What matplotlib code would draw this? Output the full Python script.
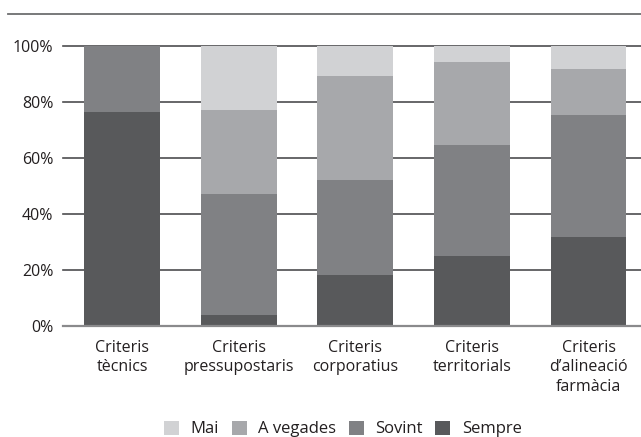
import numpy as np
import matplotlib.pyplot as plt
from matplotlib.lines import Line2D

categories = ['Criteris\ntècnics', 'Criteris\npressupostaris', 'Criteris\ncorporatius',
              'Criteris\nterritorials', 'Criteris\nd\u2019alineació\nfarmàcia']
sempre = [76.4, 3.8, 18.1, 24.9, 31.7]
sovint = [23.6, 43.2, 33.9, 39.6, 43.5]
a_vegades = [0.0, 30.0, 37.3, 29.7, 16.5]
mai = [0.0, 23.0, 10.7, 5.8, 8.3]

series = ['Mai', 'A vegades', 'Sovint', 'Sempre']
colors = {'Mai': '#d1d2d4', 'A vegades': '#a7a8ab', 'Sovint': '#808184', 'Sempre': '#58595b'}

plt.rcParams['font.family'] = ['Open Sans', 'DejaVu Sans']

fig = plt.figure(figsize=(6.41, 4.37), dpi=100)
ax = fig.add_axes([63 / 641, 1 - 325.7 / 437, 1 - 63 / 641, 280 / 437])

x = np.arange(len(categories))
w = 0.65
b1 = np.array(sempre)
b2 = b1 + np.array(sovint)
b3 = b2 + np.array(a_vegades)
ax.bar(x, sempre, w, color=colors['Sempre'], label='Sempre', zorder=3)
ax.bar(x, sovint, w, bottom=b1, color=colors['Sovint'], label='Sovint', zorder=3)
ax.bar(x, a_vegades, w, bottom=b2, color=colors['A vegades'], label='A vegades', zorder=3)
ax.bar(x, mai, w, bottom=b3, color=colors['Mai'], label='Mai', zorder=3)

ax.set_xlim(-0.506, 4.45)
ax.set_ylim(0, 100)
ax.set_yticks([0, 20, 40, 60, 80, 100])
ax.set_yticklabels(['0%', '20%', '40%', '60%', '80%', '100%'], fontsize=11.5, color='#231f20')
ax.set_xticks(x)
ax.set_xticklabels(categories, fontsize=11.5, color='#231f20', linespacing=1.32)
ax.tick_params(length=0, pad=7)
ax.tick_params(axis='x', pad=10)
for s in ax.spines.values():
    s.set_visible(False)
for v in [20, 40, 60, 80, 100]:
    ax.axhline(v, color='#4d4d4f', lw=1.2, zorder=1, clip_on=False)
ax.axhline(0, color='#8a8a8c', lw=1.6, zorder=4, clip_on=False)

fig.add_artist(Line2D([8 / 641, 1], [1 - 14 / 437, 1 - 14 / 437], color='#6d6e70', lw=1.3))

handles, labels = ax.get_legend_handles_labels()
order = [3, 2, 1, 0]
ax.legend([handles[i] for i in order], [labels[i] for i in order], loc='center',
          bbox_to_anchor=(343 / 641, 8 / 437), bbox_transform=fig.transFigure,
          ncol=4, frameon=False, fontsize=12, handlelength=0.9, handleheight=0.9,
          handletextpad=0.7, columnspacing=0.75, labelcolor='#231f20')

fig.savefig('out.png', dpi=100)
